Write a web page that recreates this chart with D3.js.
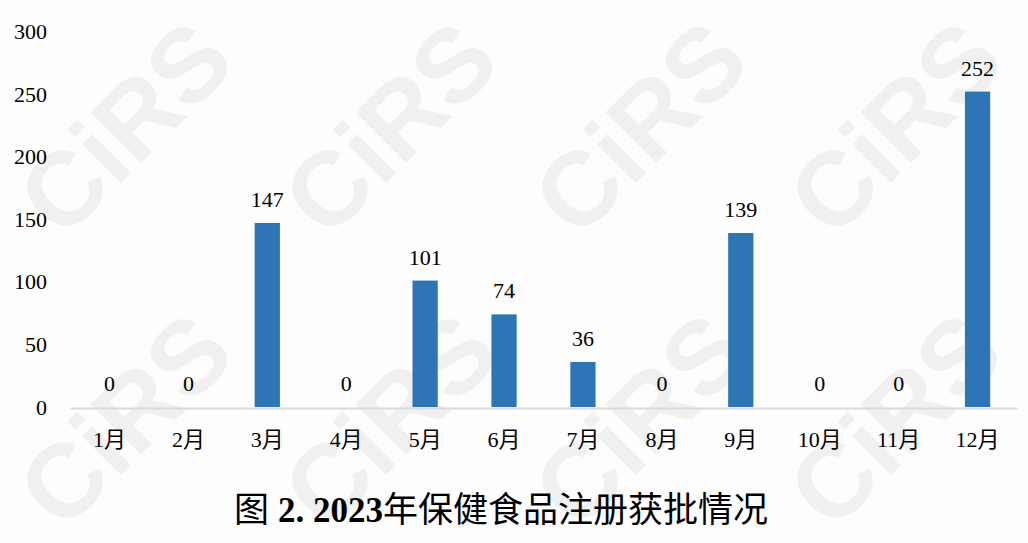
<!DOCTYPE html>
<html>
<head>
<meta charset="utf-8">
<script src="https://cdn.jsdelivr.net/npm/d3@7"></script>
<style>
  html, body { margin: 0; padding: 0; background: #fdfdfd; }
  svg { display: block; }
</style>
</head>
<body>
<svg id="chart" width="1028" height="543"></svg>
<script>
// Monthly approvals of health food registrations, 2023
const months = ["1月", "2月", "3月", "4月", "5月", "6月", "7月", "8月", "9月", "10月", "11月", "12月"];
const approvals = [0, 0, 147, 0, 101, 74, 36, 0, 139, 0, 0, 252];
const yTicks = [0, 50, 100, 150, 200, 250, 300];
// Caption split into runs: figure number in bold, the rest regular
const titleParts = [
  { text: "图 ", bold: false },
  { text: "2. 2023", bold: true },
  { text: "年保健食品注册获批情况", bold: false }
];
const watermark = "CiRS";

const svg = d3.select("#chart");
const W = 1028, H = 543;
const serif = "'Liberation Serif', 'Times New Roman', 'Noto Sans CJK SC', serif";

svg.append("rect").attr("width", W).attr("height", H).attr("fill", "#fdfdfd");

// Background watermark grid
const wm = svg.append("g");
const wmCols = [125, 390, 640, 895];
const wmRows = [128, 420];
wmRows.forEach(cy => wmCols.forEach(cx => {
  wm.append("text")
    .attr("transform", `translate(${cx},${cy}) rotate(-45)`)
    .attr("text-anchor", "middle")
    .attr("dominant-baseline", "central")
    .attr("font-family", "'Liberation Sans', Arial, sans-serif")
    .attr("font-weight", "bold")
    .attr("font-size", 104)
    .attr("fill", "#f0f0f0")
    .text(watermark);
}));

const x = d3.scaleBand()
  .domain(months)
  .range([70, 1017])
  .paddingInner(0.68)
  .paddingOuter(0.34);

const y = d3.scaleLinear()
  .domain([0, 300])
  .range([407, 31.5]);

// Y axis labels (no axis line)
const yAxis = svg.append("g")
  .attr("transform", "translate(47,0)")
  .call(d3.axisLeft(y).tickValues(yTicks).tickSize(0).tickPadding(0));
yAxis.select(".domain").remove();
yAxis.selectAll("text")
  .attr("font-family", serif)
  .attr("font-size", 22)
  .attr("fill", "#000");

// Bars
svg.append("g").selectAll("rect")
  .data(approvals)
  .join("rect")
  .attr("x", (d, i) => x(months[i]))
  .attr("y", d => y(d))
  .attr("width", x.bandwidth())
  .attr("height", d => y(0) - y(d))
  .attr("fill", "#2e75b6");

// X axis with category labels
const xAxis = svg.append("g")
  .attr("transform", `translate(0,${y(0) + 1})`)
  .call(d3.axisBottom(x).tickSize(0).tickPadding(23));
xAxis.select(".domain")
  .attr("stroke", "#d9d9d9")
  .attr("stroke-width", 2);
xAxis.selectAll("text")
  .attr("font-family", serif)
  .attr("font-size", 22)
  .attr("fill", "#000");

// Value labels above bars
svg.append("g").selectAll("text")
  .data(approvals)
  .join("text")
  .attr("x", (d, i) => x(months[i]) + x.bandwidth() / 2)
  .attr("y", d => y(d) - 16)
  .attr("text-anchor", "middle")
  .attr("font-family", serif)
  .attr("font-size", 22)
  .attr("fill", "#000")
  .text(d => d);

// Caption
svg.append("text")
  .attr("x", 501)
  .attr("y", 522)
  .attr("text-anchor", "middle")
  .attr("font-family", serif)
  .attr("font-size", 35)
  .attr("fill", "#000")
  .selectAll("tspan")
  .data(titleParts)
  .join("tspan")
  .attr("font-weight", d => d.bold ? "bold" : "normal")
  .text(d => d.text);
</script>
</body>
</html>
